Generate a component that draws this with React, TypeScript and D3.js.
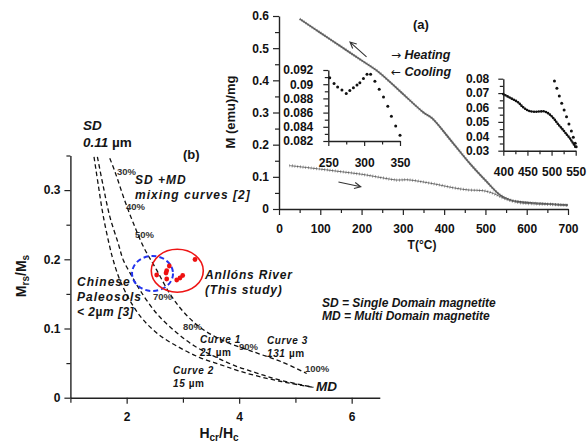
import { useEffect, useRef } from 'react';
import * as d3 from 'd3';

// (a) thermomagnetic curves, T in °C, M in emu/mg
const coolT = [50, 100, 150, 200, 240, 300, 350, 370, 422, 462, 503, 535, 560, 585, 620, 660, 700];
const coolM = [0.591, 0.548, 0.505, 0.462, 0.427, 0.358, 0.300, 0.283, 0.204, 0.142, 0.085, 0.044, 0.028, 0.022, 0.018, 0.015, 0.012];
const heatT = [25, 100, 150, 200, 250, 285, 310, 340, 380, 422, 460, 495, 520, 545, 580, 620, 660, 700];
const heatM = [0.135, 0.124, 0.116, 0.108, 0.097, 0.090, 0.091, 0.086, 0.077, 0.066, 0.059, 0.057, 0.048, 0.033, 0.020, 0.016, 0.014, 0.011];

// left inset (250-350 °C)
const insetLT = [252, 258, 263, 269, 275, 280, 285, 290, 294, 299, 304, 309, 315, 321, 327, 333, 338, 344, 350];
const insetLM = [0.0909, 0.0901, 0.0896, 0.0892, 0.0887, 0.0891, 0.0895, 0.0899, 0.0902, 0.0908, 0.0914, 0.0914, 0.0904, 0.0893, 0.0882, 0.0869, 0.0855, 0.0841, 0.0828];

// right inset (400-550 °C)
const insetRT = [400, 410, 420, 430, 440, 448, 455, 465, 475, 485, 493, 500, 507, 515, 524, 532, 538, 544, 549];
const insetRM = [0.0693, 0.0675, 0.0657, 0.0638, 0.0605, 0.0585, 0.0575, 0.057, 0.0572, 0.0573, 0.056, 0.054, 0.0513, 0.0478, 0.0444, 0.041, 0.0386, 0.0355, 0.0328];
const insetR2T = [506, 511, 516, 521, 526, 531, 536, 541, 545, 549, 551];
const insetR2M = [0.0784, 0.0733, 0.068, 0.0629, 0.0582, 0.0536, 0.0485, 0.0437, 0.0393, 0.0351, 0.0328];

// (b) Day plot: Hcr/Hc vs Mrs/Ms mixing curves
const curve1H = [1.48, 1.585, 1.70, 1.85, 1.94, 2.09, 2.24, 2.53, 2.86, 3.20, 3.55, 3.90, 4.30, 4.70, 5.32];
const curve1M = [0.348, 0.305, 0.262, 0.223, 0.199, 0.176, 0.155, 0.122, 0.096, 0.075, 0.060, 0.047, 0.036, 0.026, 0.015];
const curve2H = [1.42, 1.50, 1.585, 1.70, 1.76, 1.88, 2.09, 2.30, 2.59, 2.95, 3.30, 3.66, 4.02, 4.49, 4.90, 5.32];
const curve2M = [0.348, 0.305, 0.262, 0.218, 0.199, 0.170, 0.136, 0.112, 0.090, 0.072, 0.058, 0.048, 0.038, 0.028, 0.021, 0.015];
const curve3H = [1.70, 1.79, 1.97, 2.12, 2.30, 2.53, 2.77, 3.00, 3.30, 3.70, 4.30, 4.75, 5.20];
const curve3M = [0.346, 0.327, 0.284, 0.252, 0.218, 0.185, 0.150, 0.125, 0.102, 0.083, 0.065, 0.052, 0.035];

const sampleH = [3.215, 2.758, 2.712, 2.700, 2.534, 2.712, 2.996, 2.948, 2.890];
const sampleM = [0.1997, 0.1903, 0.1835, 0.1802, 0.1773, 0.1715, 0.1766, 0.1730, 0.1701];

const FONT = "'Liberation Sans', Arial, Helvetica, sans-serif";

function styleAxis(g: any, size: number) {
  g.attr('font-family', FONT).attr('font-size', size).attr('font-weight', 'bold');
  g.selectAll('path.domain').attr('stroke', '#222').attr('stroke-width', 1.4);
  g.selectAll('.tick line').attr('stroke', '#222').attr('stroke-width', 1.2);
  g.selectAll('.tick text').attr('fill', '#111');
}

function addAxis(root: any, gen: any, minorGen: any, tx: number, ty: number, size: number) {
  const gm = root.append('g').attr('transform', `translate(${tx},${ty})`).call(minorGen);
  gm.selectAll('path.domain').remove();
  gm.selectAll('.tick line').attr('stroke', '#222').attr('stroke-width', 1.2);
  const g = root.append('g').attr('transform', `translate(${tx},${ty})`).call(gen);
  styleAxis(g, size);
}

export default function App() {
  const ref = useRef<SVGSVGElement>(null);

  useEffect(() => {
    if (!ref.current) return;
    const svg = d3.select(ref.current);
    svg.select('g.marks').remove();
    const root = svg.append('g').attr('class', 'marks');
    const fmt = d3.format('~g');
    const fmtTick = (d: any) => fmt(d);

    // ---------- panel (a)
    const xA = d3.scaleLinear().domain([0, 700]).range([279, 568]);
    const yA = d3.scaleLinear().domain([0, 0.6]).range([209, 16]);

    addAxis(root,
      d3.axisBottom(xA).tickValues(d3.range(0, 701, 100)).tickSize(6).tickPadding(9).tickSizeOuter(0).tickFormat(fmtTick),
      d3.axisBottom(xA).tickValues(d3.range(50, 700, 100)).tickSize(4).tickFormat(() => ''),
      0, yA(0), 12);
    addAxis(root,
      d3.axisLeft(yA).tickValues([0, 0.1, 0.2, 0.3, 0.4, 0.5, 0.6]).tickSize(6).tickPadding(4).tickSizeOuter(0).tickFormat(fmtTick),
      d3.axisLeft(yA).tickValues([0.05, 0.15, 0.25, 0.35, 0.45, 0.55]).tickSize(4).tickFormat(() => ''),
      xA(0), 0, 12);

    const lineA = d3.line<number>().x((_, i) => xA(coolT[i])).y((d) => yA(d)).curve(d3.curveCatmullRom);
    root.append('path').attr('d', lineA(coolM)).attr('fill', 'none').attr('stroke', '#666').attr('stroke-width', 1.7);
    root.append('path').attr('d', lineA(coolM)).attr('fill', 'none').attr('stroke', '#444').attr('stroke-width', 3)
      .attr('stroke-dasharray', '0.7 1.8').attr('opacity', 0.5);
    const lineH = d3.line<number>().x((_, i) => xA(heatT[i])).y((d) => yA(d)).curve(d3.curveCatmullRom);
    root.append('path').attr('d', lineH(heatM)).attr('fill', 'none').attr('stroke', '#777').attr('stroke-width', 1);
    root.append('path').attr('d', lineH(heatM)).attr('fill', 'none').attr('stroke', '#333').attr('stroke-width', 3.2)
      .attr('stroke-dasharray', '0.7 2').attr('opacity', 0.55);

    // arrows
    const arrow = (t0: number, m0: number, t1: number, m1: number) => {
      const x0 = xA(t0), y0 = yA(m0), x1 = xA(t1), y1 = yA(m1);
      const a = Math.atan2(y1 - y0, x1 - x0);
      const h = 7;
      root.append('path')
        .attr('d', `M${x0},${y0}L${x1},${y1}M${x1 - h * Math.cos(a - 0.45)},${y1 - h * Math.sin(a - 0.45)}L${x1},${y1}L${x1 - h * Math.cos(a + 0.45)},${y1 - h * Math.sin(a + 0.45)}`)
        .attr('fill', 'none').attr('stroke', '#333').attr('stroke-width', 1.1);
    };
    arrow(212, 0.473, 172, 0.519);
    arrow(144, 0.084, 198, 0.069);

    // left inset
    const xL = d3.scaleLinear().domain([250, 350]).range([328.3, 400]);
    const yL = d3.scaleLinear().domain([0.082, 0.092]).range([141, 70]);
    addAxis(root,
      d3.axisBottom(xL).tickValues([250, 300, 350]).tickSize(5).tickPadding(12).tickSizeOuter(0).tickFormat(fmtTick),
      d3.axisBottom(xL).tickValues([275, 325]).tickSize(3.5).tickFormat(() => ''),
      0, yL(0.082), 12);
    addAxis(root,
      d3.axisLeft(yL).tickValues([0.082, 0.084, 0.086, 0.088, 0.09, 0.092]).tickSize(5).tickPadding(10).tickSizeOuter(0).tickFormat(fmtTick),
      d3.axisLeft(yL).tickValues([0.083, 0.085, 0.087, 0.089, 0.091]).tickSize(3.5).tickFormat(() => ''),
      xL(250), 0, 12);
    root.append('g').selectAll('circle').data(insetLM).join('circle')
      .attr('cx', (_, i) => xL(insetLT[i])).attr('cy', (d) => yL(d)).attr('r', 1.5).attr('fill', '#111');

    // right inset
    const xR = d3.scaleLinear().domain([400, 550]).range([503.3, 575.7]);
    const yR = d3.scaleLinear().domain([0.03, 0.08]).range([150.7, 78.7]);
    addAxis(root,
      d3.axisBottom(xR).tickValues([400, 450, 500, 550]).tickSize(5).tickPadding(12).tickSizeOuter(0).tickFormat(fmtTick),
      d3.axisBottom(xR).tickValues([425, 475, 525]).tickSize(3.5).tickFormat(() => ''),
      0, yR(0.03), 12);
    addAxis(root,
      d3.axisLeft(yR).tickValues([0.03, 0.04, 0.05, 0.06, 0.07, 0.08]).tickSize(5).tickPadding(9).tickSizeOuter(0).tickFormat(fmtTick),
      d3.axisLeft(yR).tickValues([0.035, 0.045, 0.055, 0.065, 0.075]).tickSize(3.5).tickFormat(() => ''),
      xR(400), 0, 12);
    const lineR = d3.line<number>().x((_, i) => xR(insetRT[i])).y((d) => yR(d)).curve(d3.curveCatmullRom);
    root.append('path').attr('d', lineR(insetRM)).attr('fill', 'none').attr('stroke', '#111').attr('stroke-width', 2.6)
      .attr('stroke-linecap', 'round').attr('stroke-dasharray', '0 2.4');
    root.append('g').selectAll('circle').data(insetR2M).join('circle')
      .attr('cx', (_, i) => xR(insetR2T[i])).attr('cy', (d) => yR(d)).attr('r', 1.5).attr('fill', '#111');

    // ---------- panel (b)
    const xB = d3.scaleLinear().domain([1, 6.5]).range([70.4, 379.8]);
    const yB = d3.scaleLinear().domain([0, 0.35]).range([397.7, 155.5]);
    addAxis(root,
      d3.axisBottom(xB).tickValues([2, 4, 6]).tickSize(6).tickPadding(9).tickSizeOuter(0).tickFormat(fmtTick),
      d3.axisBottom(xB).tickValues([1, 3, 5]).tickSize(5).tickFormat(() => ''),
      0, yB(0), 12);
    addAxis(root,
      d3.axisLeft(yB).tickValues([0, 0.1, 0.2, 0.3]).tickSize(6).tickPadding(4).tickSizeOuter(0).tickFormat(fmtTick),
      d3.axisLeft(yB).tickValues([0.05, 0.15, 0.25, 0.35]).tickSize(4).tickFormat(() => ''),
      xB(1), 0, 12);

    const curves: [number[], number[]][] = [[curve1H, curve1M], [curve2H, curve2M], [curve3H, curve3M]];
    curves.forEach(([hs, ms]) => {
      const ln = d3.line<number>().x((_, i) => xB(hs[i])).y((d) => yB(d)).curve(d3.curveCatmullRom);
      root.append('path').attr('d', ln(ms)).attr('fill', 'none').attr('stroke', '#111')
        .attr('stroke-width', 1.3).attr('stroke-dasharray', '4.5 3');
    });

    // group envelopes
    root.append('ellipse').attr('cx', xB(2.46)).attr('cy', yB(0.1795)).attr('rx', 20.5).attr('ry', 17.5)
      .attr('fill', 'none').attr('stroke', '#2233ee').attr('stroke-width', 2).attr('stroke-dasharray', '5 3');
    root.append('ellipse').attr('cx', xB(2.90)).attr('cy', yB(0.1835)).attr('rx', 26).attr('ry', 21.5)
      .attr('fill', 'none').attr('stroke', '#ee1515').attr('stroke-width', 1.6);
    root.append('g').selectAll('circle').data(sampleM).join('circle')
      .attr('cx', (_, i) => xB(sampleH[i])).attr('cy', (d) => yB(d)).attr('r', 2.4).attr('fill', '#ee1111');
  }, []);

  const bi = { fontFamily: FONT, fontWeight: 'bold', fontStyle: 'italic', fill: '#151515' } as const;
  const b = { fontFamily: FONT, fontWeight: 'bold', fill: '#151515' } as const;
  const pct = { fontFamily: FONT, fontWeight: 'bold', fill: '#333', fontSize: 9.5 } as const;
  const arr = { fontFamily: "'DejaVu Sans', sans-serif", fontWeight: 'normal', fontStyle: 'normal' } as const;

  return (
    <svg ref={ref} width={587} height={444} style={{ position: 'absolute', left: 0, top: 0, background: '#fff' }}>
      {/* panel (a) texts */}
      <text x={413} y={29} fontSize={13} style={b}>(a)</text>
      <text x={391} y={59} fontSize={12.5} style={bi}><tspan style={arr} fontSize={12}>→</tspan> Heating</text>
      <text x={391} y={76} fontSize={12.5} style={bi}><tspan style={arr} fontSize={12}>←</tspan> Cooling</text>
      <text transform="translate(235,112) rotate(-90)" textAnchor="middle" fontSize={13} style={b}>M (emu)/mg</text>
      <text x={422} y={249} textAnchor="middle" fontSize={12} style={b}>T(°C)</text>

      {/* panel (b) texts */}
      <text x={83} y={130} fontSize={13.5} style={bi}>SD</text>
      <text x={83} y={147} fontSize={13.5} style={bi}>0.11 <tspan fontStyle="normal">µm</tspan></text>
      <text x={183} y={159} fontSize={13} style={b}>(b)</text>
      <text x={135} y={184} fontSize={12} letterSpacing={1} style={bi}>SD +MD</text>
      <text x={135} y={199} fontSize={12} letterSpacing={1} style={bi}>mixing curves [2]</text>
      <text x={117} y={174.5} style={pct}>30%</text>
      <text x={126} y={210} style={pct}>40%</text>
      <text x={135} y={237.5} style={pct}>50%</text>
      <text x={153} y={300} style={pct}>70%</text>
      <text x={183} y={330} style={pct}>80%</text>
      <text x={239} y={350} style={pct}>90%</text>
      <text x={305} y={372} style={pct}>100%</text>
      <text x={77} y={286} fontSize={12} letterSpacing={1} style={bi}>Chinese</text>
      <text x={77} y={301} fontSize={12} letterSpacing={1} style={bi}>Paleosols</text>
      <text x={77} y={316} fontSize={12} letterSpacing={0.5} style={bi}>{'< 2'}<tspan fontStyle="normal">µ</tspan>m [3]</text>
      <text x={205} y={279} fontSize={12} letterSpacing={0.8} style={bi}>Anllóns River</text>
      <text x={205} y={294} fontSize={12} letterSpacing={0.8} style={bi}>(This study)</text>
      <text x={322} y={307} fontSize={12} style={bi}>SD = Single Domain magnetite</text>
      <text x={322} y={320} fontSize={12} style={bi}>MD = Multi Domain magnetite</text>
      <text x={200} y={343} fontSize={10} letterSpacing={0.6} style={bi}>Curve 1</text>
      <text x={200} y={356} fontSize={10} letterSpacing={0.6} style={bi}>21 <tspan fontStyle="normal">µm</tspan></text>
      <text x={267} y={344} fontSize={10} letterSpacing={0.6} style={bi}>Curve 3</text>
      <text x={267} y={357} fontSize={10} letterSpacing={0.6} style={bi}>131 <tspan fontStyle="normal">µm</tspan></text>
      <text x={173} y={374} fontSize={10} letterSpacing={0.6} style={bi}>Curve 2</text>
      <text x={173} y={387} fontSize={10} letterSpacing={0.6} style={bi}>15 <tspan fontStyle="normal">µm</tspan></text>
      <text x={316} y={391} fontSize={13.5} style={bi}>MD</text>
      <text transform="translate(26,276) rotate(-90)" textAnchor="middle" fontSize={14} style={b}>
        M<tspan fontSize={10} dy={3}>rs</tspan><tspan dy={-3}>/M</tspan><tspan fontSize={10} dy={3}>s</tspan>
      </text>
      <text x={219} y={438} textAnchor="middle" fontSize={14} style={b}>
        H<tspan fontSize={10} dy={3}>cr</tspan><tspan dy={-3}>/H</tspan><tspan fontSize={10} dy={3}>c</tspan>
      </text>
    </svg>
  );
}
